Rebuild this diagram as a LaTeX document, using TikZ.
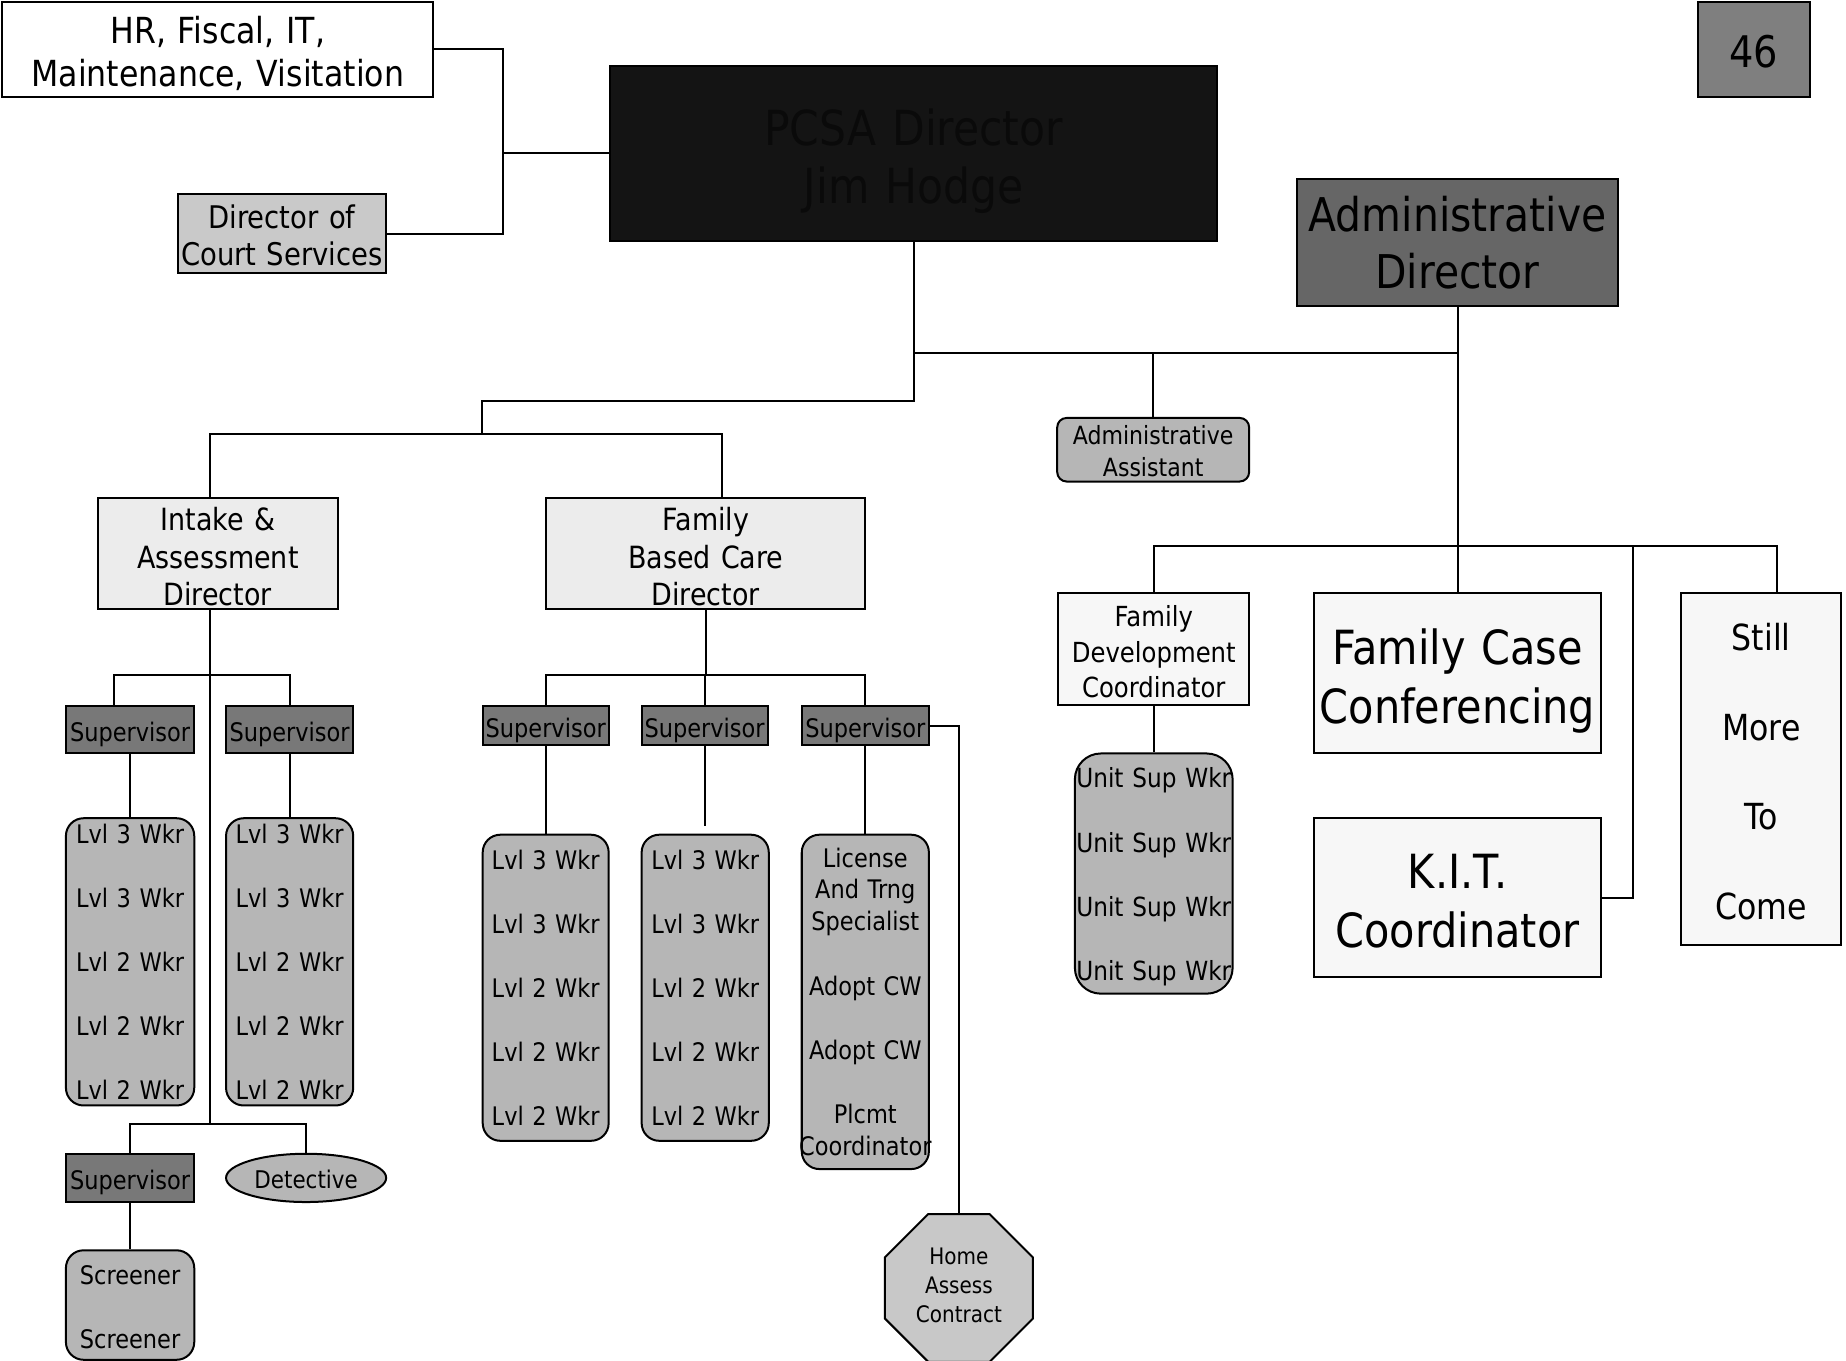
\documentclass[tikz,border=0pt]{standalone}
\usepackage{fontspec}
\setmainfont[FakeStretch=0.88]{DejaVu Sans}
\usetikzlibrary{shapes.geometric}

\definecolor{dcsgray}{HTML}{C9C9C9}
\definecolor{pcsafill}{HTML}{141414}
\definecolor{pcsatext}{HTML}{0A0A0A}
\definecolor{numgray}{HTML}{7F7F7F}
\definecolor{admgray}{HTML}{666666}
\definecolor{dirfill}{HTML}{ECECEC}
\definecolor{supgray}{HTML}{787878}
\definecolor{wkgray}{HTML}{B6B6B6}
\definecolor{octgray}{HTML}{C8C8C8}
\definecolor{litefill}{HTML}{F7F7F7}

\newcommand\fsz[2]{\fontsize{#1}{#2}\selectfont}

\begin{document}
\begin{tikzpicture}[x=1pt,y=-1pt,line width=1.7pt,
  orgbox/.style 2 args={draw=black,line width=1.7pt,inner sep=0pt,
    minimum width=#1,minimum height=#2,text width=#1,align=center},
  supbox/.style 2 args={orgbox={#1}{#2},fill=supgray,font=\fsz{21.7}{26},
    textdown=24.5pt},
  wkbox/.style 2 args={orgbox={#1}{#2},fill=wkgray,rounded corners=15pt,
    font=\fsz{21.7}{54.5}},
  % a taller first line sets the text block a little lower in its box
  textdown/.style={execute at begin node={\rule{0pt}{#1}}},
  % a deeper last line sets the text block a little higher in its box
  textup/.style={execute at end node={\rule[-#1]{0pt}{0pt}}}]
\useasboundingbox (0,0) rectangle (1568,1156);

% ---------- top level ----------
\node[orgbox={366pt}{80pt},fill=white,font=\fsz{30.5}{37},textdown=30pt] (hr) at (185,42)
  {HR, Fiscal, IT,\\Maintenance, Visitation\hspace*{10pt}};
\node[orgbox={177pt}{67pt},fill=dcsgray,font=\fsz{26.5}{32},textdown=23pt] (dcs) at (239.5,198.5)
  {Director of\\Court Services};
\node[orgbox={516pt}{149pt},fill=pcsafill,text=pcsatext,font=\fsz{41}{50},textdown=44pt] (pcsa) at (776,130.5)
  {PCSA Director\\Jim Hodge};
\node[orgbox={95pt}{80pt},fill=numgray,font=\fsz{37}{44},textdown=31pt] (num) at (1489.5,42) {46};
\node[orgbox={272pt}{108pt},fill=admgray,font=\fsz{39.5}{49}] (admdir) at (1238,206)
  {Administrative\\Director};
\node[orgbox={163pt}{54pt},fill=wkgray,rounded corners=8pt,font=\fsz{21.3}{27},textdown=19pt] (admasst) at (979.5,382)
  {Administrative\\Assistant};

% ---------- intake & assessment ----------
\node[orgbox={204pt}{94pt},fill=dirfill,font=\fsz{26}{32},textdown=25.8pt] (intake) at (185,470)
  {Intake \&\\Assessment\\Director};
\node[supbox={109pt}{40pt}] (supA) at (110.5,620) {Supervisor};
\node[supbox={108pt}{40pt}] (supB) at (246,620) {Supervisor};
\node[wkbox={109pt}{244pt}] (wkA) at (110.5,817)
  {Lvl 3 Wkr\\Lvl 3 Wkr\\Lvl 2 Wkr\\Lvl 2 Wkr\\Lvl 2 Wkr};
\node[wkbox={108pt}{244pt}] (wkB) at (246,817)
  {Lvl 3 Wkr\\Lvl 3 Wkr\\Lvl 2 Wkr\\Lvl 2 Wkr\\Lvl 2 Wkr};
\node[supbox={109pt}{41pt}] (supC) at (110.5,1000.5) {Supervisor};
\node[draw=black,ellipse,fill=wkgray,inner sep=0pt,minimum width=136pt,minimum height=41pt,
  font=\fsz{20.7}{25},textdown=19pt] (det) at (260,1000.5) {Detective};
\node[wkbox={109pt}{93pt},font=\fsz{21.7}{55},textdown=19.8pt] (scr) at (110.5,1108.5)
  {Screener\\Screener};

% ---------- family based care ----------
\node[orgbox={271pt}{94pt},fill=dirfill,font=\fsz{26}{32},textdown=25.8pt] (fbc) at (599.5,470)
  {Family\\Based Care\\Director};
\node[supbox={107pt}{33pt}] (supD) at (463.5,616.5) {Supervisor};
\node[supbox={107pt}{33pt}] (supE) at (598.5,616.5) {Supervisor};
\node[supbox={108pt}{33pt}] (supF) at (735,616.5) {Supervisor};
\node[wkbox={107pt}{260pt}] (wkD) at (463.5,839)
  {Lvl 3 Wkr\\Lvl 3 Wkr\\Lvl 2 Wkr\\Lvl 2 Wkr\\Lvl 2 Wkr};
\node[wkbox={108pt}{260pt}] (wkE) at (599,839)
  {Lvl 3 Wkr\\Lvl 3 Wkr\\Lvl 2 Wkr\\Lvl 2 Wkr\\Lvl 2 Wkr};
\node[wkbox={108pt}{284pt},font=\fsz{21.7}{27}] (wkF) at (735,851)
  {License\\And Trng\\Specialist\\[28pt]Adopt CW\\[27.5pt]Adopt CW\\[27.5pt]Plcmt\\\makebox[\linewidth]{Coordinator}};
\node[draw=black,regular polygon,regular polygon sides=8,minimum size=136pt,inner sep=0pt,
  fill=octgray,align=center,font=\fsz{19.3}{24.5},textup=5pt] (oct) at (814.5,1094)
  {Home\\Assess\\Contract};

% ---------- administrative side ----------
\node[orgbox={162pt}{95pt},fill=litefill,font=\fsz{23.5}{30.5},textdown=22pt] (fdc) at (980,551.5)
  {Family\\Development\\Coordinator};
\node[wkbox={134pt}{204pt},rounded corners=22pt,font=\fsz{22.4}{54.7},textdown=23pt] (unit) at (980,742)
  {Unit Sup Wkr\\Unit Sup Wkr\\Unit Sup Wkr\\Unit Sup Wkr};
\node[orgbox={244pt}{136pt},fill=litefill,font=\fsz{40}{50},textdown=44pt] (fcc) at (1238,572)
  {Family Case\\Conferencing};
\node[orgbox={244pt}{135pt},fill=litefill,font=\fsz{40}{50},textdown=35pt] (kit) at (1238,762.5)
  {K.I.T.\\Coordinator};
\node[orgbox={136pt}{299pt},fill=litefill,font=\fsz{30.5}{76},textdown=27pt] (still) at (1496,653.5)
  {Still\\More\\To\\Come};

% ---------- connectors ----------
\coordinate (jA) at (427,130);
\draw (hr.east) -| (jA) -- (pcsa.west |- jA);
\draw (dcs.east) -| (jA);

\coordinate (jB) at (776,300);
\coordinate (jC) at (776,341);
\coordinate (jD) at (409,341);
\coordinate (jE) at (409,369);
\draw (pcsa.south) -- (jC) -- (jD) -- (jE);
\draw (jB) -- (admdir.south |- jB);
\draw (admdir.south) -- (fcc.north);
\draw (admasst.north |- jB) -- (admasst.north);

\coordinate (jF) at (178,369);
\coordinate (jG) at (613,369);
\draw (jF |- intake.north) -- (jF) -- (jG) -- (jG |- fbc.north);

% intake branch
\coordinate (iT) at (178,955);
\coordinate (iL) at (97,573);
\coordinate (iR) at (246,573);
\draw (iT |- intake.south) -- (iT);
\draw (iL |- supA.north) -- (iL) -- (iR) -- (iR |- supB.north);
\draw (supA.south) -- (wkA.north);
\draw (supB.south) -- (wkB.north);
\draw (supC.north) -- (supC.north |- iT) -- (det.north |- iT) -- (det.north);
\draw (supC.south) -- (scr.north);

% family based care branch
\coordinate (fH) at (600,573);
\coordinate (eEnd) at (598.5,702);
\draw (fbc.south) -- (fbc.south |- fH);
\draw (supD.north) -- (supD.north |- fH) -- (supF.north |- fH) -- (supF.north);
\draw (supE.north) -- (supE.north |- fH);
\draw (supD.south) -- (wkD.north);
\draw (supE.south) -- (eEnd);
\draw (supF.south) -- (wkF.north);
\draw (supF.east) -| (oct.north);

% administrative branch
\coordinate (sJ) at (1509,464);
\coordinate (kJ) at (1387,464);
\draw (fdc.north) -- (fdc.north |- sJ) -- (sJ) -- (sJ |- still.north);
\draw (kJ) -- (kJ |- kit.east) -- (kit.east);
\draw (fdc.south) -- (unit.north);
\end{tikzpicture}
\end{document}
